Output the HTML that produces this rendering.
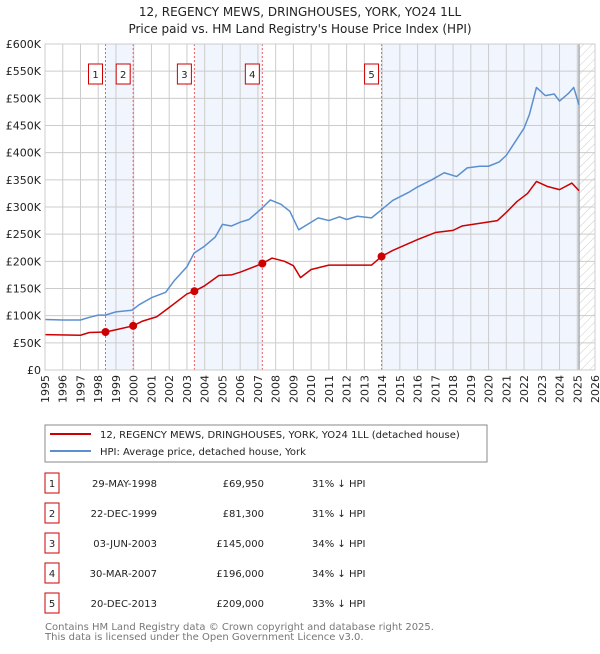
<!DOCTYPE html>
<html><head><meta charset="utf-8"><style>
body{margin:0;background:#fff;font-family:"DejaVu Sans","Liberation Sans",sans-serif;}
svg text{font-family:"DejaVu Sans","Liberation Sans",sans-serif;}
</style></head><body>
<svg id="c" width="600" height="650" xmlns="http://www.w3.org/2000/svg">
<defs><pattern id="hatch" width="6" height="6" patternUnits="userSpaceOnUse" patternTransform="rotate(45)"><line x1="0" y1="0" x2="0" y2="6" stroke="#ccc" stroke-width="1"/></pattern></defs>
<text x="300" y="16" text-anchor="middle" font-size="12" fill="#222">12, REGENCY MEWS, DRINGHOUSES, YORK, YO24 1LL</text>
<text x="300" y="33" text-anchor="middle" font-size="12" fill="#222">Price paid vs. HM Land Registry's House Price Index (HPI)</text>
<g id="plot"></g>
<rect x="45" y="425" width="442" height="37" fill="#fff" stroke="#888"/>
<line x1="50" y1="434" x2="91" y2="434" stroke="#cc0000" stroke-width="2"/>
<text x="100" y="438" font-size="10" fill="#222">12, REGENCY MEWS, DRINGHOUSES, YORK, YO24 1LL (detached house)</text>
<line x1="50" y1="451" x2="91" y2="451" stroke="#5b8fd0" stroke-width="2"/>
<text x="100" y="455" font-size="10" fill="#222">HPI: Average price, detached house, York</text>
<g id="table" font-size="10" fill="#222"></g>
<text x="45" y="630" font-size="10" fill="#777">Contains HM Land Registry data © Crown copyright and database right 2025.</text>
<text x="45" y="640" font-size="10" fill="#777">This data is licensed under the Open Government Licence v3.0.</text>
</svg>
<script>
const hpiYears=[1995,1996,1997,1997.5,1998,1998.4,1999,1999.9,2000.3,2001,2001.8,2002.3,2003,2003.4,2004,2004.6,2005,2005.5,2006,2006.5,2007.2,2007.7,2008.3,2008.8,2009.3,2009.8,2010.4,2011,2011.6,2012,2012.6,2013.4,2013.97,2014.6,2015.5,2016,2016.8,2017.5,2018.2,2018.8,2019.5,2020,2020.6,2021,2021.5,2022,2022.3,2022.7,2023.2,2023.7,2024,2024.5,2024.8,2025.1];
const hpiValues=[93,92,92,97,101,101,107,110,120,133,143,165,190,215,228,245,268,265,272,277,297,313,305,292,258,268,280,275,282,277,283,280,295,312,327,337,350,363,356,372,375,375,383,395,420,445,470,520,505,508,495,509,520,488];
const priceYears=[1995,1997,1997.5,1998.41,1999,1999.97,2000.5,2001.3,2002,2003,2003.42,2004,2004.8,2005.5,2006,2007.25,2007.8,2008.5,2009,2009.4,2010,2011,2012,2013.4,2013.97,2014.6,2016,2017,2018,2018.5,2020.5,2021,2021.6,2022.2,2022.7,2023.3,2024,2024.7,2025.1];
const priceValues=[65,64,69,69.95,74,81.3,90,98,115,140,145,155,174,175,180,196,206,200,192,170,185,193,193,193,209,220,240,253,257,265,275,290,310,325,347,338,332,344,330];
const saleYears=[1998.41,1999.97,2003.42,2007.25,2013.97];
const saleValues=[69.95,81.3,145,196,209];
const saleLabels=["1","2","3","4","5"];
const saleDates=["29-MAY-1998","22-DEC-1999","03-JUN-2003","30-MAR-2007","20-DEC-2013"];
const salePrices=["£69,950","£81,300","£145,000","£196,000","£209,000"];
const saleDiffs=["31% ↓ HPI","31% ↓ HPI","34% ↓ HPI","34% ↓ HPI","33% ↓ HPI"];
const yTicks=[0,50,100,150,200,250,300,350,400,450,500,550,600];
const yTickLabels=["£0","£50K","£100K","£150K","£200K","£250K","£300K","£350K","£400K","£450K","£500K","£550K","£600K"];
const xTicks=[];for(let y=1995;y<=2026;y++)xTicks.push(y);

const X0=45,X1=595,Y0=370,Y1=44,yr0=1995,yr1=2026,dataEnd=2025.1;
const sx=y=>X0+(y-yr0)/(yr1-yr0)*(X1-X0);
const sy=v=>Y0-v/600*(Y0-Y1);
const NS="http://www.w3.org/2000/svg";
const g=document.getElementById('plot');
function mk(t,a,p){const e=document.createElementNS(NS,t);for(const k in a)e.setAttribute(k,a[k]);(p||g).appendChild(e);return e;}
mk('rect',{x:X0,y:Y1,width:X1-X0,height:Y0-Y1,fill:'#fff'});
// shaded bands
const bands=[[0,1],[2,3]];
bands.forEach(b=>{const r=mk('rect',{x:sx(saleYears[b[0]]),y:Y1,width:sx(saleYears[b[1]])-sx(saleYears[b[0]]),height:Y0-Y1,fill:'#eef3fc',opacity:0.8});

});
const lb=mk('rect',{x:sx(saleYears[4]),y:Y1,width:sx(dataEnd)-sx(saleYears[4]),height:Y0-Y1,fill:'#eef3fc',opacity:0.8});


const ht=mk('rect',{x:sx(dataEnd),y:Y1,width:X1-sx(dataEnd),height:Y0-Y1,fill:'url(#hatch)'});


// grid
yTicks.forEach((v,i)=>{
 const l=mk('line',{x1:X0,x2:X1,y1:sy(v),y2:sy(v),stroke:'#ccc','stroke-width':1});
 
 
 const t=mk('text',{x:X0-4,y:sy(v)+4,'text-anchor':'end','font-size':11,fill:'#222'});
 t.textContent=yTickLabels[i];
 
 
});
xTicks.forEach(y=>{
 const l=mk('line',{x1:sx(y),x2:sx(y),y1:Y1,y2:Y0,stroke:'#ccc','stroke-width':1});
 
 
 const t=mk('text',{x:0,y:0,'text-anchor':'end','font-size':11,fill:'#222',transform:`translate(${sx(y)+4},${Y0+5}) rotate(-90)`});
 t.textContent=y;
 
 
});
const dl=mk('line',{x1:sx(dataEnd),x2:sx(dataEnd),y1:Y1,y2:Y0,stroke:'#999','stroke-width':1.2});


// sale vlines + labels
saleYears.forEach((y,i)=>{
 const l=mk('line',{x1:sx(y),x2:sx(y),y1:Y1,y2:Y0,stroke:'#f06060','stroke-width':1,'stroke-dasharray':'2,2'});
 
 
 const r=mk('rect',{x:sx(y)-17,y:64,width:14,height:20,fill:'#fff',stroke:'#cc0000'});
 
 
 const t=mk('text',{x:sx(y)-10,y:78,'text-anchor':'middle','font-size':10,fill:'#222'});
 t.textContent=saleLabels[i];
 
 
});
function line(xs,vs,col,name){const p=mk('polyline',{points:xs.map((x,i)=>sx(x)+','+sy(vs[i])).join(' '),fill:'none',stroke:col,'stroke-width':1.5,'stroke-linejoin':'round'});

}
line(hpiYears,hpiValues,'#5b8fd0','hpi-line');
line(priceYears,priceValues,'#cc0000','price-line');
saleYears.forEach((y,i)=>{const c=mk('circle',{cx:sx(y),cy:sy(saleValues[i]),r:4,fill:'#cc0000'});

});
const ax=mk('rect',{x:X0,y:Y1,width:X1-X0,height:Y0-Y1,fill:'none',stroke:'#ccc'});
// table
const tb=document.getElementById('table');
saleLabels.forEach((s,i)=>{
 const yy=483+i*30;
 const r=mk('rect',{x:45,y:yy-10,width:14,height:20,fill:'#fff',stroke:'#cc0000'},tb);
 
 
 const cells=[[52,s,'middle'],[157,saleDates[i],'end'],[264,salePrices[i],'end'],[312,saleDiffs[i],'start']];
 cells.forEach(c=>{const t=mk('text',{x:c[0],y:yy+4,'text-anchor':c[2],'font-size':10,fill:'#222'},tb);
 t.textContent=c[1];
 
 });
});
</script>
</body></html>
